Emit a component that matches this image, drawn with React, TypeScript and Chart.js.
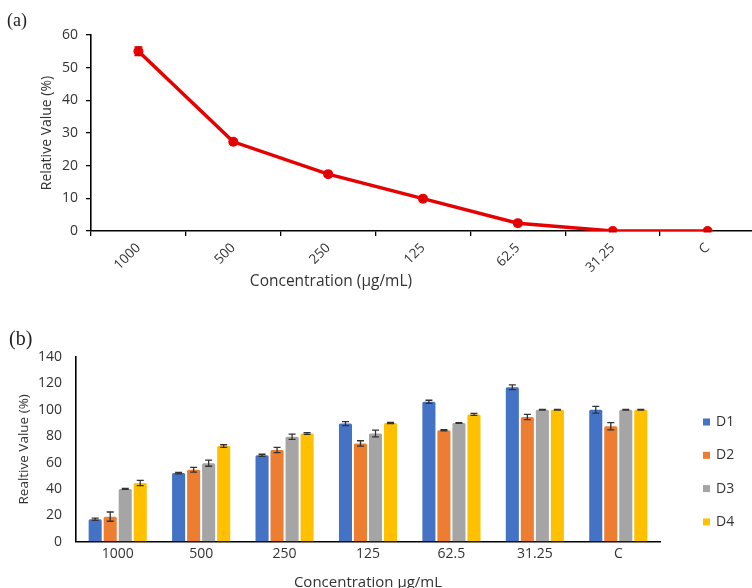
import React, { useEffect, useRef } from "react";
import { Chart, registerables } from "chart.js";

Chart.register(...registerables);

// Shared categories (concentration, µg/mL)
const concentrations = ["1000", "500", "250", "125", "62.5", "31.25", "C"];

// Panel (a): relative value with standard error
const relativeValue = [55, 27.3, 17.4, 9.9, 2.4, 0, 0];
const relativeError = [1.3, 0.7, 0.6, 0.6, 0.5, 0.2, 0.2];

// Panel (b): four series with standard error
const seriesNames = ["D1", "D2", "D3", "D4"];
const d1Values = [17, 52, 65.5, 89.5, 106, 117, 100];
const d2Values = [19, 54.5, 69.5, 74.5, 84.5, 94.5, 87.5];
const d3Values = [40, 59.5, 79.5, 82, 90, 100, 100];
const d4Values = [44.5, 72.5, 82, 90, 96.5, 100, 100];
const d1Errors = [0.8, 0.6, 0.8, 1.5, 1.2, 1.8, 2.5];
const d2Errors = [3.5, 1.8, 2, 2, 0.4, 2, 2.8];
const d3Errors = [0.4, 2.3, 2, 2.5, 0.3, 0.3, 0.3];
const d4Errors = [2, 1, 0.7, 0.4, 0.8, 0.3, 0.3];
const seriesColors = ["#4472C4", "#ED7D31", "#A5A5A5", "#FFC000"];

const FONT = "'Open Sans', sans-serif";
const TEXT = "#333333";

// Draws vertical error bars with caps for any dataset carrying an `errors` array
const errorBars = {
  id: "errorBars",
  afterDatasetsDraw(chart: any) {
    const ctx = chart.ctx;
    chart.data.datasets.forEach((ds: any, di: number) => {
      const errs = ds.errors;
      if (!errs) return;
      const meta = chart.getDatasetMeta(di);
      const yScale = chart.scales[meta.yAxisID];
      ctx.save();
      ctx.strokeStyle = ds.errorColor || "#404040";
      ctx.lineWidth = ds.errorWidth || 1.3;
      meta.data.forEach((el: any, i: number) => {
        const v = ds.data[i];
        const e = errs[i];
        if (!e) return;
        const x = el.x;
        const yTop = yScale.getPixelForValue(v + e);
        const yBot = yScale.getPixelForValue(v - e);
        const cap = (ds.errorCap || 7) / 2;
        ctx.beginPath();
        ctx.moveTo(x, yTop);
        ctx.lineTo(x, yBot);
        ctx.moveTo(x - cap, yTop);
        ctx.lineTo(x + cap, yTop);
        ctx.moveTo(x - cap, yBot);
        ctx.lineTo(x + cap, yBot);
        ctx.stroke();
      });
      ctx.restore();
    });
  },
};

// Free-standing axis caption (used for the x title of panel a)
const bottomCaption = {
  id: "bottomCaption",
  afterDraw(chart: any, _args: any, opts: any) {
    if (!opts || !opts.text) return;
    const ctx = chart.ctx;
    ctx.save();
    ctx.font = `${opts.size}px ${FONT}`;
    ctx.fillStyle = opts.color;
    ctx.textAlign = "center";
    ctx.textBaseline = "middle";
    ctx.fillText(opts.text, opts.x, opts.y);
    ctx.restore();
  },
};

// Vertical legend to the right of the plot area (panel b)
const sideLegend = {
  id: "sideLegend",
  afterDraw(chart: any, _args: any, opts: any) {
    const { ctx, chartArea } = chart;
    ctx.save();
    ctx.font = `14px ${FONT}`;
    ctx.textBaseline = "middle";
    ctx.textAlign = "left";
    chart.data.datasets.forEach((ds: any, i: number) => {
      const y = chartArea.top + opts.top + i * opts.step;
      const x = chartArea.right + opts.left;
      ctx.fillStyle = ds.backgroundColor;
      ctx.fillRect(x, y - 3.5, 7, 7);
      ctx.fillStyle = TEXT;
      ctx.fillText(ds.label, x + 13, y);
    });
    ctx.restore();
  },
};

function LineChart() {
  const ref = useRef<HTMLCanvasElement>(null);
  useEffect(() => {
    const chart = new Chart(ref.current as HTMLCanvasElement, {
      type: "line",
      data: {
        labels: concentrations,
        datasets: [
          {
            label: "Relative Value (%)",
            data: relativeValue,
            errors: relativeError,
            errorColor: "#d00000",
            errorCap: 8,
            errorWidth: 1.5,
            borderColor: "#e60000",
            backgroundColor: "#e60000",
            borderWidth: 3.5,
            pointRadius: 5,
            pointBorderWidth: 0,
            pointBackgroundColor: "#f00000",
            tension: 0,
          } as any,
        ],
      },
      options: {
        responsive: false,
        animation: false,
        devicePixelRatio: 1,
        layout: { padding: { left: 35, top: 35, right: 3, bottom: 0 } },
        plugins: {
          legend: { display: false },
          tooltip: { enabled: false },
          bottomCaption: {
            text: "Concentration (µg/mL)",
            x: 331,
            y: 282,
            size: 15.5,
            color: TEXT,
          },
        } as any,
        scales: {
          x: {
            offset: true,
            grid: {
              offset: true,
              drawOnChartArea: false,
              drawTicks: true,
              tickLength: 5,
              color: "#000",
              lineWidth: 1.3,
            },
            border: { color: "#000", width: 1.6 },
            ticks: {
              minRotation: 45,
              maxRotation: 45,
              padding: 4,
              color: TEXT,
              font: { family: FONT, size: 13.5 },
            },
            afterFit: (s: any) => {
              s.height = 65;
            },
          },
          y: {
            min: 0,
            max: 60,
            ticks: {
              stepSize: 10,
              padding: 8,
              color: TEXT,
              font: { family: FONT, size: 14 },
            },
            grid: {
              drawOnChartArea: false,
              drawTicks: true,
              tickLength: 5,
              color: "#000",
              lineWidth: 1.3,
            },
            border: { color: "#000", width: 1.6 },
            title: {
              display: true,
              text: "Relative Value (%)",
              color: TEXT,
              font: { family: FONT, size: 14 },
            },
            afterFit: (s: any) => {
              s.width = 56;
            },
          },
        },
      },
      plugins: [errorBars, bottomCaption],
    });
    return () => chart.destroy();
  }, []);
  return (
    <canvas
      ref={ref}
      width={760}
      height={296}
      style={{ display: "block", width: 760, height: 296 }}
    />
  );
}

function BarChart() {
  const ref = useRef<HTMLCanvasElement>(null);
  useEffect(() => {
    const values = [d1Values, d2Values, d3Values, d4Values];
    const errors = [d1Errors, d2Errors, d3Errors, d4Errors];
    const chart = new Chart(ref.current as HTMLCanvasElement, {
      type: "bar",
      data: {
        labels: concentrations,
        datasets: seriesNames.map(
          (name, i) =>
            ({
              label: name,
              data: values[i],
              errors: errors[i],
              errorColor: "#333333",
              errorCap: 7,
              errorWidth: 1.3,
              backgroundColor: seriesColors[i],
              borderWidth: 0,
              borderRadius: 1.5,
              barPercentage: 0.87,
              categoryPercentage: 0.72,
            }) as any
        ),
      },
      options: {
        responsive: false,
        animation: false,
        devicePixelRatio: 1,
        layout: { padding: { left: 12, top: 47, right: 92, bottom: 0 } },
        plugins: {
          legend: { display: false },
          tooltip: { enabled: false },
          sideLegend: { top: 65, step: 33.3, left: 43 },
        } as any,
        scales: {
          x: {
            grid: { drawOnChartArea: false, drawTicks: false },
            border: { color: "#000", width: 1.6 },
            ticks: {
              padding: 4,
              color: TEXT,
              font: { family: FONT, size: 14 },
            },
            title: {
              display: true,
              text: "Concentration µg/mL",
              color: TEXT,
              font: { family: FONT, size: 15 },
            },
            afterFit: (s: any) => {
              s.height = 54.3;
            },
          },
          y: {
            min: 0,
            max: 140,
            ticks: {
              stepSize: 20,
              padding: 14,
              color: TEXT,
              font: { family: FONT, size: 14 },
            },
            grid: { drawOnChartArea: false, drawTicks: false },
            border: { color: "#000", width: 1.6 },
            title: {
              display: true,
              text: "Realtive Value (%)",
              color: TEXT,
              font: { family: FONT, size: 13.5 },
            },
            afterFit: (s: any) => {
              s.width = 64;
            },
          },
        },
      },
      plugins: [errorBars, sideLegend],
    });
    return () => chart.destroy();
  }, []);
  return (
    <canvas
      ref={ref}
      width={752}
      height={286}
      style={{ display: "block", width: 752, height: 286 }}
    />
  );
}

export default function App() {
  return (
    <div
      style={{
        position: "absolute",
        left: 0,
        top: 0,
        width: 752,
        height: 588,
        overflow: "hidden",
        background: "#fff",
      }}
    >
      <div style={{ position: "absolute", left: 0, top: 0 }}>
        <LineChart />
      </div>
      <div style={{ position: "absolute", left: 0, top: 310 }}>
        <BarChart />
      </div>
      <div
        style={{
          position: "absolute",
          left: 7,
          top: 11,
          font: "18px 'Liberation Serif', serif",
          lineHeight: "18px",
          color: "#222",
        }}
      >
        (a)
      </div>
      <div
        style={{
          position: "absolute",
          left: 9,
          top: 328,
          font: "20px 'Liberation Serif', serif",
          lineHeight: "20px",
          color: "#222",
        }}
      >
        (b)
      </div>
    </div>
  );
}
